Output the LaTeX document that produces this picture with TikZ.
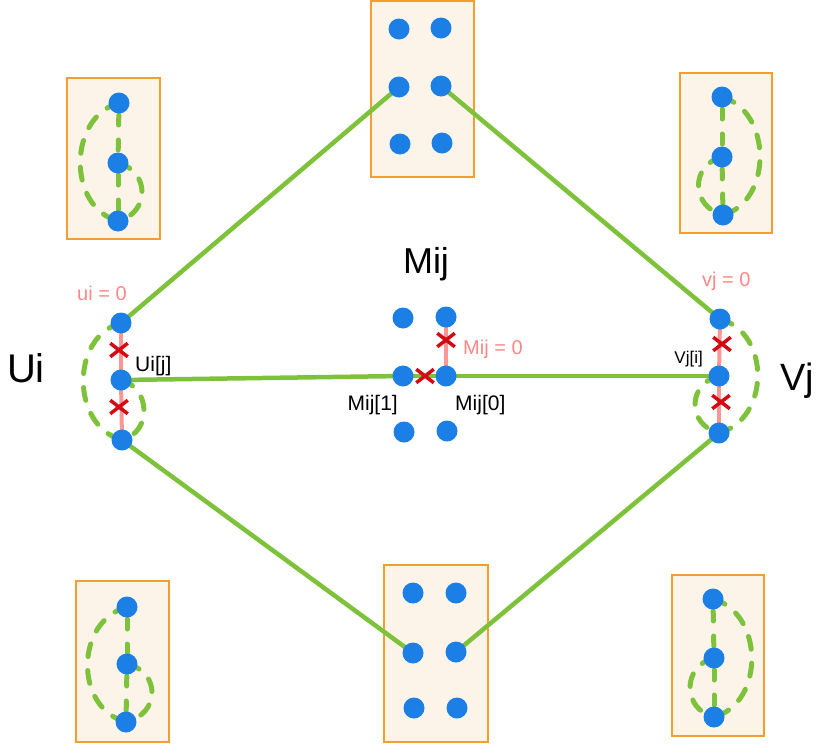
\documentclass[tikz,border=0pt]{standalone}
\usepackage{fontspec}
\setmainfont{Liberation Sans}
\usetikzlibrary{shapes.misc}

\definecolor{dotblue}{RGB}{27,127,230}
\definecolor{edgegreen}{RGB}{125,194,58}
\definecolor{boxorange}{RGB}{245,158,48}
\definecolor{boxfill}{RGB}{252,244,232}
\definecolor{linkpink}{RGB}{255,150,150}
\definecolor{crossred}{RGB}{210,10,20}
\definecolor{notepink}{RGB}{255,135,135}

\begin{document}
\begin{tikzpicture}[x=1pt,y=-1pt,
  dot/.style={circle,fill=dotblue,inner sep=0pt,minimum size=21pt},
  groupbox/.style={draw=boxorange,fill=boxfill,line width=2pt,inner sep=0pt},
  edge/.style={draw=edgegreen,line width=4.5pt},
  ring/.style={draw=edgegreen,line width=5pt,line cap=round,dash pattern=on 13pt off 14pt},
  spine/.style={draw=edgegreen,line width=5pt,line cap=round,dash pattern=on 10pt off 15pt,dash phase=13pt},
  link/.style={draw=linkpink,line width=4pt},
  cut/.style={cross out,draw=crossred,line width=3.5pt,minimum width=14pt,minimum height=10pt,inner sep=0pt},
  note/.style={text=notepink,font=\fontsize{20}{20}\selectfont,inner sep=0pt},
  tag/.style={font=\fontsize{21}{21}\selectfont,inner sep=0pt},
  big/.style={font=\fontsize{40}{40}\selectfont,inner sep=0pt}]

\useasboundingbox (0,0) rectangle (816,747);

% group boxes
\node[groupbox,minimum width=103pt,minimum height=176pt] (boxT)  at (422.5,89) {};
\node[groupbox,minimum width=104pt,minimum height=177pt] (boxB)  at (436,653.5) {};
\node[groupbox,minimum width=93pt,minimum height=161pt]  (boxTL) at (113.5,158.5) {};
\node[groupbox,minimum width=92pt,minimum height=160pt]  (boxTR) at (726,153) {};
\node[groupbox,minimum width=93pt,minimum height=161pt]  (boxBL) at (122.5,661.5) {};
\node[groupbox,minimum width=92pt,minimum height=161pt]  (boxBR) at (718,655.5) {};

% vertex positions
\coordinate (t1) at (399,29);  \coordinate (t2) at (441,28);
\coordinate (t3) at (399,87);  \coordinate (t4) at (441,86);
\coordinate (t5) at (400,144); \coordinate (t6) at (442,143);
\coordinate (b1) at (413,593); \coordinate (b2) at (456,593);
\coordinate (b3) at (413,653); \coordinate (b4) at (456,652);
\coordinate (b5) at (414,708); \coordinate (b6) at (457,708);
\coordinate (m1) at (403,318); \coordinate (m2) at (446,317);
\coordinate (m3) at (403,376); \coordinate (m4) at (446,376);
\coordinate (m5) at (404,432); \coordinate (m6) at (447,431);
\coordinate (u1) at (121,323); \coordinate (u2) at (121,380); \coordinate (u3) at (122,440);
\coordinate (v1) at (720,319); \coordinate (v2) at (719,376); \coordinate (v3) at (719,433);
\coordinate (a1) at (119,103); \coordinate (a2) at (118,163); \coordinate (a3) at (118,221);
\coordinate (c1) at (722,97);  \coordinate (c2) at (722,157); \coordinate (c3) at (723,215);
\coordinate (d1) at (127,607); \coordinate (d2) at (127,664); \coordinate (d3) at (126,722);
\coordinate (e1) at (713,599); \coordinate (e2) at (714,658); \coordinate (e3) at (714,717);

% solid green edges
\draw[edge] (u1) -- (t3);
\draw[edge] (t4) -- (v1);
\draw[edge] (u2) -- (m3);
\draw[edge] (m3) -- (m4);
\draw[edge] (m4) -- (v2);
\draw[edge] (u3) -- (b3);
\draw[edge] (b4) -- (v3);

% dashed rings, bulging left then right
\foreach \p/\q/\r/\L/\R in {a1/a2/a3/51/32, u1/u2/u3/51/30, d1/d2/d3/52/34}{
  \draw[ring] (\p) .. controls ([shift={(-\L,14)}]\p) and ([shift={(-\L,-14)}]\r) .. (\r);
  \draw[ring] (\q) .. controls ([shift={(\R,8)}]\q) and ([shift={(\R,-8)}]\r) .. (\r);
}
\foreach \p/\q/\r/\L/\R in {c1/c2/c3/50/32, v1/v2/v3/51/32, e1/e2/e3/51/32}{
  \draw[ring] (\p) .. controls ([shift={(\L,14)}]\p) and ([shift={(\L,-14)}]\r) .. (\r);
  \draw[ring] (\q) .. controls ([shift={(-\R,8)}]\q) and ([shift={(-\R,-8)}]\r) .. (\r);
}

% dashed spines inside the small boxes
\foreach \p/\q/\r in {a1/a2/a3, c1/c2/c3, d1/d2/d3, e1/e2/e3}{
  \draw[spine] (\p) -- (\q);
  \draw[spine] (\q) -- (\r);
}

% pink links
\draw[link] (u1) -- (u2);
\draw[link] (u2) -- (u3);
\draw[link] (v1) -- (v2);
\draw[link] (v2) -- (v3);
\draw[link] (m2) -- (m4);

% vertices
\foreach \n in {t1,t2,t3,t4,t5,t6,b1,b2,b3,b4,b5,b6,m1,m2,m3,m4,m5,m6,
                u1,u2,u3,v1,v2,v3,a1,a2,a3,c1,c2,c3,d1,d2,d3,e1,e2,e3}
  \node[dot] (n\n) at (\n) {};

% cut marks
\node[cut] (xu1) at (119,350) {};
\node[cut] (xu2) at (119,407) {};
\node[cut] (xv1) at (722,344) {};
\node[cut] (xv2) at (721,402) {};
\node[cut] (xm1) at (446,340) {};
\node[cut] (xm2) at (425,376) {};

% labels
\node[big,anchor=base] (lU) at (26,382) {Ui};
\node[big,font=\fontsize{38}{38}\selectfont,anchor=base east] (lV) at (814,390) {Vj};
\node[font=\fontsize{36}{36}\selectfont,inner sep=0pt,anchor=base] (lM) at (426,273) {Mij};
\node[tag,anchor=base west] (lUj) at (135,371) {Ui[j]};
\node[tag,font=\fontsize{17}{17}\selectfont,anchor=base east] (lVi) at (703,363) {Vj[i]};
\node[tag,anchor=base east] (lM1) at (398,410) {Mij[1]};
\node[tag,anchor=base west] (lM0) at (455,410) {Mij[0]};
\node[note,anchor=base west] (nU) at (77,300) {ui = 0};
\node[note,anchor=base west] (nV) at (702,286) {vj = 0};
\node[note,anchor=base west] (nM) at (463,354) {Mij = 0};
\end{tikzpicture}
\end{document}
